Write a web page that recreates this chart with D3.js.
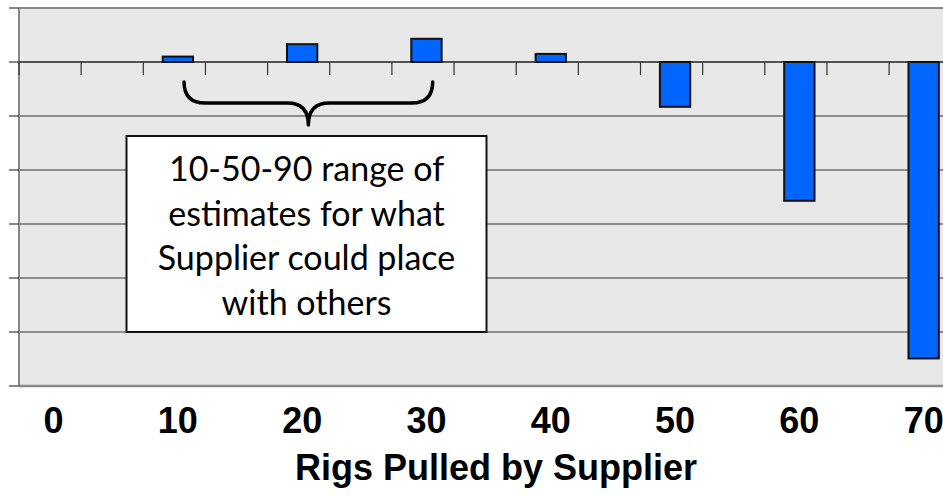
<!DOCTYPE html>
<html>
<head>
<meta charset="utf-8">
<script src="https://cdn.jsdelivr.net/npm/d3@7"></script>
<style>
  html, body { margin: 0; padding: 0; background: #ffffff; }
  svg { display: block; }
</style>
</head>
<body>
<svg id="chart" width="943" height="496"></svg>
<script>
// ---- data ----
const categories = [0, 10, 20, 30, 40, 50, 60, 70];
const values = [0, 1.0, 3.3, 4.3, 1.5, -8.3, -25.7, -54.9];
const categoryLabels = ["0", "10", "20", "30", "40", "50", "60", "70"];
const xAxisTitle = "Rigs Pulled by Supplier";
const calloutLines = ["10-50-90 range of", "estimates for what", "Supplier could place", "with others"];
const braceRange = [10.5, 30.5]; // rigs pulled span covered by the brace

// ---- layout ----
const W = 943, H = 496;
const plot = { left: 19, top: 8, bottom: 386 };
const svg = d3.select("#chart");

const x = d3.scaleLinear().domain([-2.78, 72.22]).range([plot.left, plot.left + 75 * 12.43]);
const y = d3.scaleLinear().domain([-60, 10]).range([plot.bottom, plot.top]);
const plotRight = x.range()[1];

// plot background
svg.append("rect")
  .attr("x", plot.left).attr("y", plot.top)
  .attr("width", plotRight - plot.left).attr("height", plot.bottom - plot.top)
  .attr("fill", "#e8e8e8");

// gridlines
const yTicks = d3.range(-60, 10.01, 10);
svg.append("g").selectAll("line").data(yTicks.filter(d => d !== 0 && d !== 10 && d !== -60)).join("line")
  .attr("x1", plot.left).attr("x2", plotRight)
  .attr("y1", d => y(d)).attr("y2", d => y(d))
  .attr("stroke", "#333").attr("stroke-width", 1.2);

// plot border (top / bottom / left)
svg.append("line").attr("x1", plot.left).attr("x2", plotRight).attr("y1", y(10)).attr("y2", y(10))
  .attr("stroke", "#888").attr("stroke-width", 2);
svg.append("line").attr("x1", plot.left).attr("x2", plotRight).attr("y1", y(-60)).attr("y2", y(-60))
  .attr("stroke", "#888").attr("stroke-width", 2.5);
svg.append("line").attr("x1", plot.left).attr("x2", plot.left).attr("y1", y(10)).attr("y2", y(-60))
  .attr("stroke", "#888").attr("stroke-width", 2);

// y axis tick marks
svg.append("g").selectAll("line").data(yTicks).join("line")
  .attr("x1", plot.left - 10).attr("x2", plot.left)
  .attr("y1", d => y(d)).attr("y2", d => y(d))
  .attr("stroke", "#444").attr("stroke-width", 1.3);

// zero axis with minor ticks
const xMinor = d3.range(x.domain()[0], x.domain()[1] + 0.01, 5);
svg.append("line").attr("x1", plot.left).attr("x2", plotRight).attr("y1", y(0)).attr("y2", y(0))
  .attr("stroke", "#222").attr("stroke-width", 1.5);
svg.append("g").selectAll("line").data(xMinor).join("line")
  .attr("x1", d => x(d)).attr("x2", d => x(d))
  .attr("y1", y(0)).attr("y2", y(0) + 13)
  .attr("stroke", "#333").attr("stroke-width", 1.2);

// bars
const half = 1.22;
const barData = categories.map((c, i) => ({ c, v: values[i] })).filter(d => d.v !== 0);
svg.append("g").selectAll("rect").data(barData).join("rect")
  .attr("x", d => x(d.c - half))
  .attr("width", d => x(d.c + half) - x(d.c - half))
  .attr("y", d => y(Math.max(0, d.v)))
  .attr("height", d => Math.abs(y(d.v) - y(0)))
  .attr("fill", "#0066ff")
  .attr("stroke", "#111").attr("stroke-width", 2);

// category labels
svg.append("g").selectAll("text").data(categories).join("text")
  .attr("x", d => x(d))
  .attr("y", 433)
  .attr("text-anchor", "middle")
  .attr("font-family", "'Liberation Sans', Arial, sans-serif")
  .attr("font-weight", "bold")
  .attr("font-size", 36)
  .attr("fill", "#000")
  .text((d, i) => categoryLabels[i]);

// axis title
svg.append("text")
  .attr("x", 496).attr("y", 480)
  .attr("text-anchor", "middle")
  .attr("font-family", "'Liberation Sans', Arial, sans-serif")
  .attr("font-weight", "bold")
  .attr("font-size", 36)
  .attr("fill", "#000")
  .text(xAxisTitle);

// brace
const bx0 = x(braceRange[0]), bx1 = x(braceRange[1]);
const bm = (bx0 + bx1) / 2;
const bTop = 82, bMid = 103, bTip = 125;
const r = 21;
const bracePath = d3.path();
bracePath.moveTo(bx0, bTop);
bracePath.quadraticCurveTo(bx0, bMid, bx0 + r, bMid);
bracePath.lineTo(bm - r, bMid);
bracePath.quadraticCurveTo(bm, bMid, bm, bTip);
bracePath.moveTo(bx1, bTop);
bracePath.quadraticCurveTo(bx1, bMid, bx1 - r, bMid);
bracePath.lineTo(bm + r, bMid);
bracePath.quadraticCurveTo(bm, bMid, bm, bTip);
svg.append("path").attr("d", bracePath.toString())
  .attr("fill", "none").attr("stroke", "#000").attr("stroke-width", 3.5)
  .attr("stroke-linecap", "round").attr("stroke-linejoin", "round");

// callout box
const box = { x: 126.5, y: 136, w: 360, h: 196 };
svg.append("rect").attr("x", box.x).attr("y", box.y).attr("width", box.w).attr("height", box.h)
  .attr("fill", "#fff").attr("stroke", "#111").attr("stroke-width", 2);
svg.append("g").selectAll("text").data(calloutLines).join("text")
  .attr("x", box.x + box.w / 2)
  .attr("y", (d, i) => 181 + i * 44.7)
  .attr("text-anchor", "middle")
  .attr("font-family", "Lato, 'Open Sans', sans-serif")
  .attr("font-size", 34)
  .attr("fill", "#000")
  .text(d => d);
</script>
</body>
</html>
